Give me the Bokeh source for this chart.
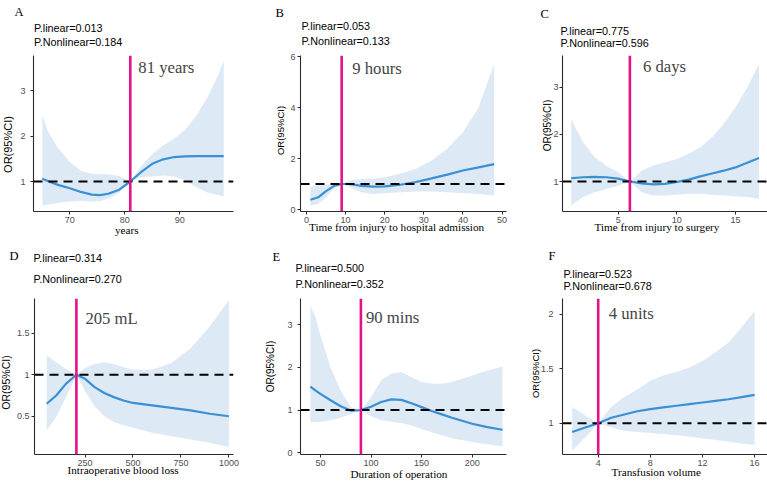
import itertools
from bokeh.plotting import figure
from bokeh.models import Range1d, FixedTicker, Span, Label, Title
from bokeh.layouts import column, row
from bokeh.embed import file_html
from bokeh.resources import INLINE

# ---------------- data ----------------
# A: age
a_x = [65, 66, 67, 68, 70, 72, 74, 75.5, 77, 79, 81, 83, 85, 87, 89, 91, 93, 95, 97, 98]
a_or = [1.06, 1.01, 0.96, 0.92, 0.85, 0.77, 0.71, 0.70, 0.73, 0.82, 1.00, 1.21, 1.39, 1.49, 1.54, 1.555, 1.56, 1.56, 1.56, 1.56]
a_lo = [0.47, 0.49, 0.51, 0.53, 0.56, 0.57, 0.56, 0.57, 0.62, 0.76, 1.00, 1.10, 1.11, 1.13, 1.11, 1.02, 0.88, 0.76, 0.70, 0.67]
a_hi = [2.46, 2.12, 1.90, 1.72, 1.43, 1.24, 1.17, 1.16, 1.16, 1.12, 1.00, 1.35, 1.60, 1.80, 1.95, 2.15, 2.45, 2.85, 3.35, 3.67]

# B: time from injury to hospital admission
b_x = [1, 3, 5, 7, 9, 11, 14, 17, 20, 24, 28, 32, 36, 40, 44, 48]
b_or = [0.38, 0.48, 0.72, 0.92, 1.00, 1.00, 0.93, 0.90, 0.91, 0.97, 1.08, 1.22, 1.37, 1.53, 1.65, 1.78]
b_lo = [0.16, 0.22, 0.48, 0.81, 1.00, 0.88, 0.68, 0.61, 0.64, 0.68, 0.71, 0.71, 0.68, 0.65, 0.61, 0.55]
b_hi = [0.88, 0.94, 0.97, 1.00, 1.00, 1.14, 1.20, 1.21, 1.27, 1.40, 1.60, 1.92, 2.38, 3.03, 4.00, 5.71]

# C: time from injury to surgery
c_x = [1, 1.5, 2, 3, 4, 5, 6, 7, 8, 9, 10, 11, 12, 13, 14, 15, 16, 17]
c_or = [1.07, 1.08, 1.09, 1.10, 1.09, 1.06, 1.00, 0.96, 0.94, 0.95, 0.99, 1.04, 1.11, 1.17, 1.23, 1.30, 1.40, 1.50]
c_lo = [0.49, 0.58, 0.67, 0.77, 0.84, 0.91, 1.00, 0.77, 0.70, 0.70, 0.72, 0.74, 0.74, 0.72, 0.70, 0.68, 0.67, 0.63]
c_hi = [2.33, 2.08, 1.84, 1.52, 1.33, 1.20, 1.00, 1.23, 1.34, 1.41, 1.48, 1.59, 1.73, 1.94, 2.23, 2.58, 3.00, 3.50]

# D: intraoperative blood loss
d_x = [50, 100, 150, 205, 250, 300, 350, 400, 450, 500, 600, 700, 800, 900, 1000]
d_or = [0.65, 0.75, 0.89, 1.00, 0.95, 0.85, 0.78, 0.73, 0.69, 0.66, 0.63, 0.60, 0.57, 0.53, 0.50]
d_lo = [0.33, 0.49, 0.73, 1.00, 0.80, 0.62, 0.50, 0.43, 0.39, 0.36, 0.30, 0.26, 0.22, 0.18, 0.13]
d_hi = [1.23, 1.15, 1.07, 1.00, 1.08, 1.13, 1.15, 1.13, 1.09, 1.06, 1.06, 1.14, 1.32, 1.58, 1.90]

# E: duration of operation
e_x = [40, 45, 50, 60, 70, 80, 90, 100, 110, 120, 130, 140, 150, 160, 170, 180, 200, 215, 230]
e_or = [1.55, 1.46, 1.38, 1.23, 1.09, 0.99, 1.00, 1.08, 1.19, 1.25, 1.24, 1.16, 1.07, 0.98, 0.90, 0.82, 0.68, 0.60, 0.54]
e_lo = [0.72, 0.72, 0.72, 0.76, 0.82, 0.91, 1.00, 0.85, 0.76, 0.73, 0.70, 0.64, 0.56, 0.48, 0.41, 0.34, 0.25, 0.20, 0.15]
e_hi = [3.45, 3.18, 2.75, 2.00, 1.46, 1.07, 1.00, 1.30, 1.70, 1.85, 1.89, 1.77, 1.66, 1.62, 1.62, 1.66, 1.81, 1.93, 2.02]

# F: transfusion volume
f_x = [2, 3, 4, 5, 6, 7, 8, 9, 10, 11, 12, 13, 14, 15, 16]
f_or = [0.92, 0.96, 1.00, 1.05, 1.08, 1.11, 1.13, 1.145, 1.16, 1.175, 1.19, 1.205, 1.22, 1.24, 1.26]
f_lo = [0.75, 0.87, 1.00, 0.96, 0.93, 0.92, 0.91, 0.90, 0.89, 0.875, 0.86, 0.845, 0.83, 0.815, 0.80]
f_hi = [1.15, 1.07, 1.00, 1.15, 1.24, 1.31, 1.39, 1.44, 1.47, 1.51, 1.57, 1.65, 1.74, 1.88, 2.03]

knots = [81, 9, 6, 205, 90, 4]
knot_labels = ["81 years", "9 hours", "6 days", "205 mL", "90 mins", "4 units"]
letters = ["A", "B", "C", "D", "E", "F"]
p_linear = ["0.013", "0.053", "0.775", "0.314", "0.500", "0.523"]
p_nonlinear = ["0.184", "0.133", "0.596", "0.270", "0.352", "0.678"]
x_titles = ["years", "Time from injury to hospital admission", "Time from injury to surgery",
            "Intraoperative blood loss", "Duration of operation", "Transfusion volume"]
x_ticks = [[70, 80, 90], [0, 10, 20, 30, 40, 50], [5, 10, 15],
           [250, 500, 750, 1000], [50, 100, 150, 200], [4, 8, 12, 16]]
y_ticks = [[1, 2, 3], [0, 2, 4, 6], [1, 2, 3], [0.5, 1.0, 1.5], [0, 1, 2, 3], [1.0, 1.5, 2.0]]

# ---------------- style ----------------
SANS = "Liberation Sans"
SERIF = "Liberation Serif"
BLUE = "#3B8FD3"
BAND = "#DDEAF6"
MAGENTA = "#E0138C"
AXIS = "#2B2B2B"
TICK_TEXT = "#4D4D4D"
TICK_SIZE = 9
P_SIZE = 10.8
LETTER_SIZE = 12.5
XT_SIZE = 11.2
LINE_H = 1.16          # text box height per px of font size
OR_LEN = 5.167         # length of "OR(95%CI)" in em

# page layout: outer box of each figure and its plotting frame (left, top, right, bottom).
# Frames share their edges along each row and each column of the grid.
fig_boxes = [(0, 0, 255, 240), (255, 0, 510, 240), (510, 0, 767, 240),
             (0, 240, 255, 482), (255, 240, 510, 482), (510, 240, 767, 482)]
frame_boxes = [(31, 55, 233, 211), (300, 55, 506, 211), (562, 55, 767, 211),
               (31, 298, 233, 454), (300, 298, 506, 454), (562, 298, 767, 454)]
x_ranges = [(63.39, 99.78), (-1.53, 51.15), (0.256, 17.73), (-13.4, 1024), (30.3, 233.9), (1.259, 16.99)]
y_ranges = [(0.338, 3.781), (-0.078, 6.04), (0.362, 3.68), (0.039, 1.918), (-0.04, 3.614), (0.713, 2.144)]
ytick_standoff = [5, 2, 1, 2, 5, 6]
ytick_width = [5, 5, 5, 12.5, 5, 12.5]

# text placement in page px: letter (left x, centre y), P-values (left x, centre y1, y2),
# knot label offset from its line and centre y, x-title (left x, centre y),
# y-title centre (x, y) and font size
letter_pos = [(12, 10), (275, 10), (540, 7), (6, 255), (272, 255), (548, 254)]
pval_pos = [(31.5, 26, 41), (301, 27, 40.5), (560, 29, 42), (30, 266, 278), (295, 271, 283), (563, 272, 285)]
knot_offset = [8, 10.5, 13, 9, 5, 10.5]
knot_y = [66.7, 68.3, 65.7, 318.3, 317.3, 313.3]
xtitle_pos = [(112.5, 232), (308.5, 228.5), (594, 228.5), (64, 471.5), (350, 476), (611, 473.5)]
ytitle_pos = [(4.5, 144, 11), (283.5, 130, 9.5), (549, 125, 10), (4.5, 382, 10.5), (272.5, 366, 10), (540, 373, 9.5)]

series = [(a_x, a_or, a_lo, a_hi), (b_x, b_or, b_lo, b_hi), (c_x, c_or, c_lo, c_hi),
          (d_x, d_or, d_lo, d_hi), (e_x, e_or, e_lo, e_hi), (f_x, f_or, f_lo, f_hi)]

INNER = {"above": "bottom", "below": "top", "left": "bottom"}
OUTER = {"above": "top", "below": "bottom", "left": "top"}


def stack_titles(p, side, base, limit, items):
    """Stack Title annotations on one side of the frame so that each text's centre
    lands at the wanted distance from the frame edge.
    items: (text, font, size, centre distance, along-axis offset)"""
    best = None
    for combo in itertools.product([0, 1], repeat=len(items)):
        cum = base
        ss = []
        for (_, _, size, d, _), c in zip(items, combo):
            th = LINE_H * size
            s = 2 * (d - cum - th / 2) if c == 0 else 2 * (d - cum - 2 - th / 2)
            s = max(s, -(th + 1))
            ss.append(s)
            cum += 2 + th + s
        if best is None or cum < best[0]:
            best = (cum, combo, ss)
    total, combo, ss = best
    if total > limit:
        ss[-1] -= total - limit
        ss[-1] = max(ss[-1], -(LINE_H * items[-1][2] + 1))
    for (text, font, size, d, off), c, s in zip(items, combo, ss):
        p.add_layout(Title(text=text, align="left", offset=off, standoff=s,
                           vertical_align=INNER[side] if c == 0 else OUTER[side],
                           text_font=font, text_font_size=f"{size}px",
                           text_font_style="normal", text_color="black"), side)


def make_panel(i):
    gx0, gy0, gx1, gy1 = fig_boxes[i]
    fx0, fy0, fx1, fy1 = frame_boxes[i]
    x, orv, lo, hi = series[i]
    p = figure(width=gx1 - gx0, height=gy1 - gy0, output_backend="svg", toolbar_location=None,
               x_range=Range1d(*x_ranges[i]), y_range=Range1d(*y_ranges[i]),
               min_border_left=fx0 - gx0, min_border_right=gx1 - fx1,
               min_border_top=fy0 - gy0, min_border_bottom=gy1 - fy1)
    p.title.visible = False
    p.outline_line_color = None
    p.grid.visible = False
    p.background_fill_color = "white"
    p.border_fill_color = "white"

    p.varea(x=x, y1=lo, y2=hi, fill_color=BAND, fill_alpha=1.0)
    p.line(x=x, y=orv, line_color=BLUE, line_width=2.2)

    p.add_layout(Span(location=1, dimension="width", line_color="black",
                      line_dash="9 6", line_width=2))
    p.add_layout(Span(location=knots[i], dimension="height", line_color=MAGENTA, line_width=2.6))

    p.xaxis.ticker = FixedTicker(ticks=x_ticks[i])
    p.yaxis.ticker = FixedTicker(ticks=y_ticks[i])
    for ax in (p.xaxis, p.yaxis):
        ax.axis_line_color = AXIS
        ax.axis_line_width = 1.1
        ax.major_tick_line_color = AXIS
        ax.major_tick_out = 3
        ax.major_tick_in = 0
        ax.minor_tick_out = 0
        ax.minor_tick_in = 0
        ax.major_label_text_font = SANS
        ax.major_label_text_font_size = f"{TICK_SIZE}px"
        ax.major_label_text_color = TICK_TEXT
    p.xaxis.major_label_standoff = 2
    p.yaxis.major_label_standoff = ytick_standoff[i]

    # knot label next to the vertical line
    p.add_layout(Label(x=knots[i], y=fy1 - knot_y[i], x_units="data", y_units="screen",
                       x_offset=knot_offset[i], text=knot_labels[i], text_font=SERIF,
                       text_font_size="16.7px", text_baseline="middle", text_align="left"))

    # header: P.Nonlinear (nearest the frame), P.linear, panel letter
    lx, ly = letter_pos[i]
    px, py1, py2 = pval_pos[i]
    stack_titles(p, "above", 0, fy0 - gy0, [
        (f"P.Nonlinear={p_nonlinear[i]}", SANS, P_SIZE, fy0 - py2, px - fx0),
        (f"P.linear={p_linear[i]}", SANS, P_SIZE, fy0 - py1, px - fx0),
        (letters[i], SERIF, LETTER_SIZE, fy0 - ly, lx - fx0),
    ])

    # x title below the tick labels
    tx, ty = xtitle_pos[i]
    stack_titles(p, "below", 3 + 2 + LINE_H * TICK_SIZE, gy1 - fy1, [
        (x_titles[i], SERIF, XT_SIZE, ty - fy1, tx - fx0),
    ])

    # y title left of the tick labels
    yx, yy, ys = ytitle_pos[i]
    stack_titles(p, "left", 3 + ytick_standoff[i] + ytick_width[i], fx0 - gx0, [
        ("OR(95%CI)", SANS, ys, fx0 - yx, fy1 - (yy + OR_LEN * ys / 2)),
    ])
    return p


panels = [make_panel(i) for i in range(6)]
layout = column(row(*panels[:3], spacing=0), row(*panels[3:], spacing=0), spacing=0)

open("out.html", "w").write(file_html(layout, INLINE))
